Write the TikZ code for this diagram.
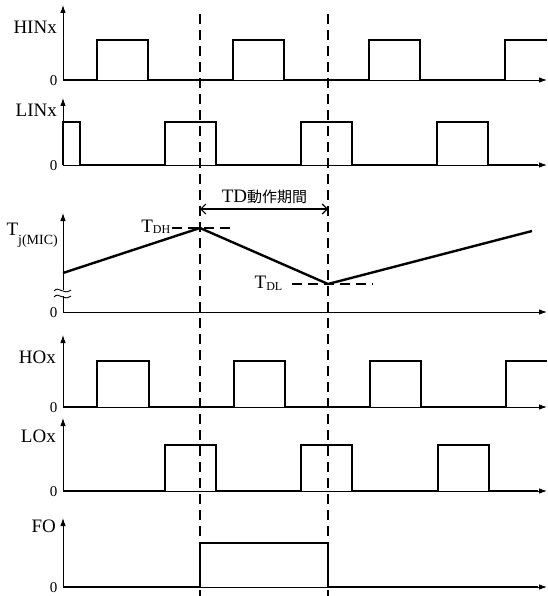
\documentclass[tikz,border=0pt]{standalone}
\usepackage{fontspec}
\setmainfont{Liberation Serif}
\newfontfamily\cjk{Noto Sans CJK JP}
\usetikzlibrary{arrows.meta}
\tikzset{
  axisline/.style={line width=0.9pt,-{Latex[length=8pt,width=5.5pt]}},
  sig/.style={line width=2.4pt,line join=miter,line cap=butt},
  guide/.style={line width=1.1pt,dash pattern=on 10pt off 6pt},
  lbl/.style={font=\fontsize{19}{19}\selectfont,anchor=base east,inner sep=0pt},
  zero/.style={font=\fontsize{15}{15}\selectfont,anchor=base east,inner sep=0pt},
  toplbl/.style={font=\fontsize{19}{19}\selectfont,anchor=base,inner sep=0pt},
}
\newcommand{\subx}[3]{\raisebox{-#1pt}{\fontsize{#2}{#2}\selectfont #3}}
\begin{document}
\begin{tikzpicture}[x=1pt,y=-1pt]
\useasboundingbox (0,0) rectangle (547,596);
\fill[white] (0,0) rectangle (547,596);

% dashed guides
\draw[guide] (200,14) -- (200,596);
\draw[guide] (328,14) -- (328,596);

% ===== HINx =====
\draw[axisline] (63,80) -- (63,5);
\draw[axisline] (63,80) -- (547,80);
\draw[sig] (63,80) -- (97,80) -- (97,40) -- (148,40) -- (148,80) -- (233,80) -- (233,40) -- (284,40) -- (284,80) -- (369,80) -- (369,40) -- (420,40) -- (420,80) -- (505,80) -- (505,40) -- (547,40);
\node[lbl] (hin) at (57,34) {HINx};
\node[zero] (hin0) at (57.5,85.5) {0};

% ===== LINx =====
\draw[axisline] (63,165) -- (63,98);
\draw[axisline] (63,165) -- (547,165);
\draw[sig] (63,165) -- (63,122) -- (80,122) -- (80,165) -- (165,165) -- (165,122) -- (216,122) -- (216,165) -- (301,165) -- (301,122) -- (352,122) -- (352,165) -- (437,165) -- (437,122) -- (488,122) -- (488,165) -- (538,165);
\node[lbl] (lin) at (57,117) {LINx};
\node[zero] (lin0) at (57.5,170.5) {0};

% ===== Tj =====
\draw[axisline] (63,312) -- (63,213);
\draw[axisline] (63,312) -- (547,312);
\fill[white] (54,290) rectangle (72,296);
\draw[line width=0.9pt] (54,291) .. controls (59,285) and (63,296) .. (71,290);
\draw[line width=0.9pt] (54,297) .. controls (59,291) and (63,302) .. (71,296);
\draw[sig] (63,273) -- (200,228) -- (328,284) -- (532,231);
\node[lbl] (tj) at (58,235) {T\subx{9}{14}{j(MIC)}};
\node[zero] (tj0) at (57.5,317.5) {0};
\draw[guide] (172,228) -- (235,228);
\draw[guide] (292,284) -- (373,284);
\node[lbl] (tdh) at (170.5,232) {T\subx{1.5}{12}{DH}};
\node[lbl] (tdl) at (282.5,288) {T\subx{2}{12}{DL}};
\coordinate (tda) at (200,209);
\coordinate (tdb) at (328,209);
\draw[line width=1.1pt,{Straight Barb[length=5pt,width=10pt]}-{Straight Barb[length=5pt,width=10pt]}] (tda) -- (tdb);
\node[toplbl] (td) at (264.5,202) {TD{\cjk\fontsize{15}{15}\selectfont 動作期間}};

% ===== HOx =====
\draw[axisline] (63,407) -- (63,335);
\draw[axisline] (63,407) -- (547,407);
\draw[sig] (63,407) -- (97,407) -- (97,361) -- (149,361) -- (149,407) -- (234,407) -- (234,361) -- (285,361) -- (285,407) -- (370,407) -- (370,361) -- (421,361) -- (421,407) -- (506,407) -- (506,361) -- (547,361);
\node[lbl] (ho) at (56,363) {HOx};
\node[zero] (ho0) at (57.5,412.5) {0};

% ===== LOx =====
\draw[axisline] (63,491) -- (63,418);
\draw[axisline] (63,491) -- (547,491);
\draw[sig] (63,491) -- (165,491) -- (165,445) -- (216,445) -- (216,491) -- (301,491) -- (301,445) -- (352,445) -- (352,491) -- (438,491) -- (438,445) -- (489,445) -- (489,491) -- (538,491);
\node[lbl] (lo) at (56,442) {LOx};
\node[zero] (lo0) at (57.5,496.5) {0};

% ===== FO =====
\draw[axisline] (63,587) -- (63,518);
\draw[axisline] (63,587) -- (547,587);
\draw[sig] (63,587) -- (200,587) -- (200,543) -- (328,543) -- (328,587) -- (538,587);
\node[lbl] (fo) at (56,532) {FO};
\node[zero] (fo0) at (57.5,592.5) {0};
\end{tikzpicture}
\end{document}
